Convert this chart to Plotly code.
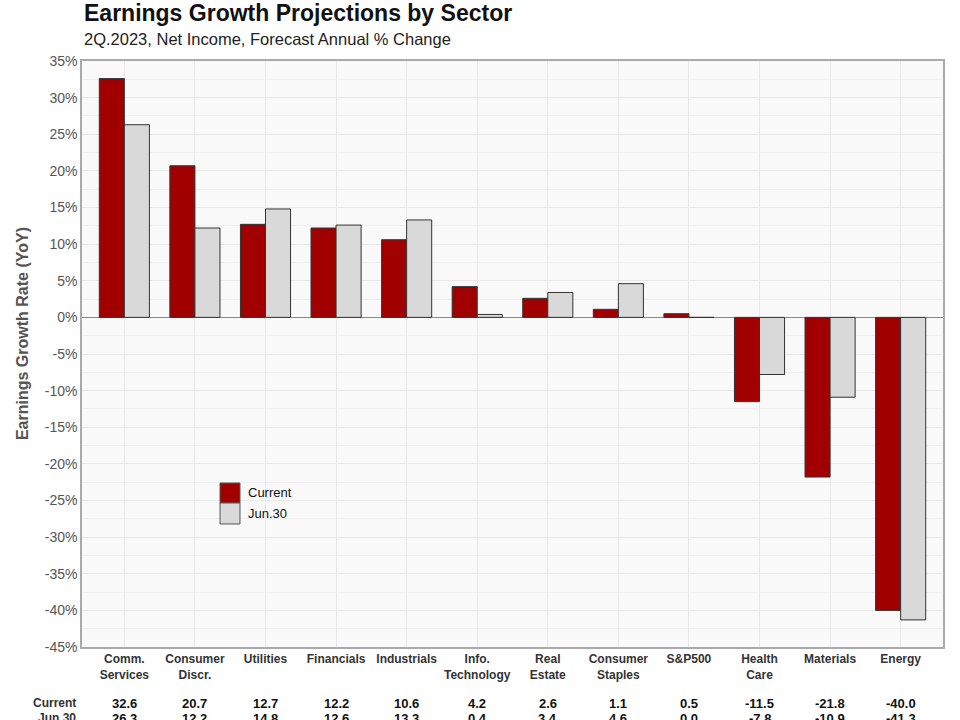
import plotly.graph_objects as go

categories = ["Comm.<br>Services", "Consumer<br>Discr.", "Utilities", "Financials", "Industrials",
              "Info.<br>Technology", "Real<br>Estate", "Consumer<br>Staples", "S&P500",
              "Health<br>Care", "Materials", "Energy"]
current = [32.6, 20.7, 12.7, 12.2, 10.6, 4.2, 2.6, 1.1, 0.5, -11.5, -21.8, -40.0]
jun30 = [26.3, 12.2, 14.8, 12.6, 13.3, 0.4, 3.4, 4.6, 0.0, -7.8, -10.9, -41.3]
yticks = list(range(-45, 40, 5))
series_names = ["Current", "Jun.30"]
series_colors = ["#a00000", "#d9d9d9"]

FONT = "Liberation Sans, Arial, sans-serif"

fig = go.Figure()
for name, vals, col in zip(series_names, [current, jun30], series_colors):
    fig.add_trace(go.Bar(x=categories, y=vals, name=name, showlegend=False,
                         marker=dict(color=col, line=dict(color="#333333", width=1))))

fig.update_layout(
    width=960, height=720,
    margin=dict(l=82, r=17, t=61, b=73),
    paper_bgcolor="white", plot_bgcolor="#f9f9f9",
    font=dict(family=FONT, color="#333333", size=12),
    barmode="group", bargap=0.29, bargroupgap=0,
    showlegend=False,
)
fig.update_xaxes(range=[-0.6, 11.6], showgrid=True, gridcolor="#e8e8e8", showline=True,
                 linecolor="#aaaaaa", linewidth=1.5, mirror=True,
                 tickfont=dict(size=12, color="#333333"),
                 tickprefix="<b>", ticksuffix="</b>", ticks="")
fig.update_yaxes(range=[-45, 35], tickvals=yticks, ticktext=[f"{v}%" for v in yticks],
                 showgrid=True, gridcolor="#e8e8e8",
                 minor=dict(dtick=2.5, showgrid=True, gridcolor="#efefef"),
                 showline=True, linecolor="#aaaaaa", linewidth=1.5, mirror=True,
                 zeroline=True, zerolinecolor="#888888", zerolinewidth=1,
                 tickfont=dict(size=14, color="#555555"), ticks="")

fig.add_annotation(text="<b>Earnings Growth Rate (YoY)</b>", xref="paper", yref="paper",
                   x=0, y=0.534, xanchor="center", yanchor="middle", xshift=-60,
                   textangle=-90, showarrow=False, font=dict(size=16, color="#555555"))

fig.add_annotation(text="<b>Earnings Growth Projections by Sector</b>", xref="paper", yref="paper",
                   x=0, y=1, xanchor="left", yanchor="middle", yshift=48, showarrow=False,
                   font=dict(size=23, color="#111111"))
fig.add_annotation(text="2Q.2023, Net Income, Forecast Annual % Change", xref="paper", yref="paper",
                   x=0, y=1, xanchor="left", yanchor="middle", yshift=22, showarrow=False,
                   font=dict(size=16.5, color="#222222"))

# legend drawn manually (larger swatches like the reference)
leg_x0, leg_x1 = 0.1603, 0.1835
leg_rows = [(0.2799, 0.2457), (0.2457, 0.2099)]
for (y1, y0), name, col in zip(leg_rows, series_names, series_colors):
    fig.add_shape(type="rect", xref="paper", yref="paper", x0=leg_x0, x1=leg_x1, y0=y0, y1=y1,
                  fillcolor=col, line=dict(color="#555555", width=1))
    fig.add_annotation(text=name, xref="paper", yref="paper", x=leg_x1, y=(y0 + y1) / 2,
                       xanchor="left", yanchor="middle", xshift=6, showarrow=False,
                       font=dict(size=13, color="#111111"))

rows = [("Current", current, -56), ("Jun.30", jun30, -71)]
for label, vals, ys in rows:
    fig.add_annotation(text=f"<b>{label}</b>", xref="paper", yref="paper", x=0, y=0,
                       xanchor="right", yanchor="middle", xshift=-4, yshift=ys, showarrow=False,
                       font=dict(size=12, color="#333333"))
    for c, v in zip(categories, vals):
        fig.add_annotation(text=f"<b>{v:.1f}</b>", xref="x", yref="paper", x=c, y=0,
                           xanchor="center", yanchor="middle", yshift=ys, showarrow=False,
                           font=dict(size=13, color="#111111"))

fig.write_html("out.html")
